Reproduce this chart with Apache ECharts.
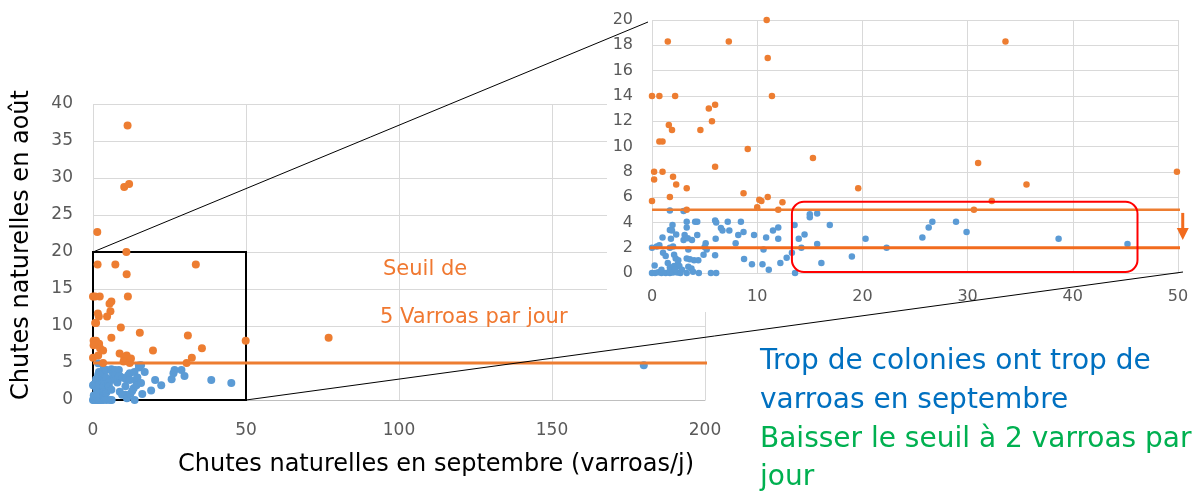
<!DOCTYPE html>
<html><head><meta charset="utf-8">
<script src="https://cdn.jsdelivr.net/npm/echarts@6/dist/echarts.min.js"></script>
<style>html,body{margin:0;padding:0;background:#fff}#c{width:1203px;height:492px}</style>
</head><body><div id="c"></div>
<script>
// ---- data (Chutes naturelles: [septembre, août]) ----
const orangePoints = [
  [0,14],[0.7,14],[2.2,14],[11.4,14],[1.5,18.3],[7.3,18.3],[10.9,20],[11,17],[5.4,13],[6.0,13.3],
  [5.7,12],[1.6,11.7],[1.9,11.3],[4.6,11.3],[0.7,10.4],[1.0,10.4],[9.1,9.8],[6.0,8.4],[0.2,8.0],[1.0,8.0],
  [0.2,7.4],[2.0,7.6],[2.3,7.0],[3.3,6.7],[15.3,9.1],[19.6,6.7],[0,5.7],[1.7,6.0],[8.7,6.3],[10.2,5.8],
  [10.4,5.7],[11.0,6.0],[10.0,5.2],[12.4,5.6],[12.0,5.0],[3.3,5.0],[33.6,18.3],[31.0,8.7],[49.9,8.0],[35.6,7.0],
  [32.3,5.7],[30.6,5.0],[1.4,22.7],[10.2,28.8],[11.8,29.2],[11.3,37.1],[77,8.4]
];
const bluePoints = [
  [0,0],[0.3,0],[0.6,0.05],[0.9,0],[0.9,0.25],[0.25,0.6],
  [0,2.0],[0.45,2.1],[0.7,2.2],[1.0,2.8],[1.05,1.6],[1.3,1.35],[1.3,0],[1.7,0],[1.7,0.45],[1.7,0.2],
  [1.7,4.95],[1.7,3.4],[1.95,3.8],[1.9,3.35],[1.8,2.7],[1.7,2.0],[2.0,2.1],[2.0,0.03],[2.1,0.56],[2.1,1.45],
  [2.25,1.15],[2.3,3.05],[2.4,0.03],[2.45,0.7],[2.5,1.0],[2.6,0.55],[2.7,0],[2.85,0.25],[2.2,0.3],[1.5,0.8],
  [3.0,4.9],[3.1,3.0],[3.0,2.6],[3.3,4.05],[3.3,3.6],[3.4,2.75],[3.3,0],[3.3,1.15],[3.45,1.85],[3.45,0.5],
  [3.6,1.08],[3.75,0.35],[3.8,2.6],[3.9,0.1],[4.0,1.0],[4.1,4.05],[4.3,4.05],[4.3,3.0],[4.4,1.0],[4.45,0],
  [4.9,1.45],[5.0,2.05],[5.1,2.35],[5.2,1.85],[5.6,0],
  [6.0,1.4],[6.0,4.15],[6.1,4.0],[6.05,2.7],[6.1,0],[6.55,3.55],[6.7,3.35],[7.2,4.05],[7.35,3.35],[7.95,2.35],
  [8.2,3.0],[8.45,4.05],[8.7,3.25],[8.75,1.1],[9.5,0.7],[9.7,3.0],[10.5,0.7],[10.6,1.85],[10.85,2.8],[11.1,0.25],
  [11.5,3.35],[12.0,3.6],[12.0,2.7],[12.2,0.8],[12.8,1.2],[13.3,1.6],[13.55,3.8],[13.6,0],[13.95,2.7],[14.2,2.0],
  [14.5,3.05],[15.0,4.65],[15.0,4.4],[15.7,4.7],[15.7,2.3],[16.1,0.8],[16.9,3.8],[19.0,1.3],[20.3,2.7],[22.3,2.0],
  [25.7,2.8],[26.3,3.6],[26.65,4.05],[28.9,4.05],[29.9,3.25],[38.65,2.7],[45.2,2.3],[180,4.7]
];
const mainXRange = [0, 200, 50];   // min, max, interval
const mainYRange = [0, 40, 5];
const zoomXRange = [0, 50, 10];
const zoomYRange = [0, 20, 2];
const seuilActuel = 5;
const seuilPropose = 2;
const zoomBox = [[0, 20], [50, 0]];
const highlightBox = [[13.3, 5.63], [46.15, 0.08]];

// ---- style ----
const FONT = '"DejaVu Sans", "Liberation Sans", Arial, sans-serif';
const GRID = '#D9D9D9';
const LABEL = '#595959';
const ORANGE = '#ED7D31';
const BLUE = '#5B9BD5';

const chart = echarts.init(document.getElementById('c'), null, {renderer: 'canvas'});

function valueAxis(grid, r, z, margin, fs, extra) {
  return Object.assign({
    gridIndex: grid, type: 'value', min: r[0], max: r[1], interval: r[2], z: z,
    axisLine: {show: false}, axisTick: {show: false},
    axisLabel: {fontSize: fs, color: LABEL, margin: margin, fontFamily: FONT},
    splitLine: {show: true, lineStyle: {color: GRID, width: 1}}
  }, extra || {});
}

const option = {
  animation: false,
  backgroundColor: '#fff',
  grid: [
    {left: 93, top: 104, width: 612, height: 296},
    {left: 652, top: 20, width: 526, height: 253}
  ],
  xAxis: [
    valueAxis(0, mainXRange, 0, 22, 17, {
      axisLine: {show: true, lineStyle: {color: '#BFBFBF'}},
      name: 'Chutes naturelles en septembre (varroas/j)', nameLocation: 'middle', nameGap: 53,
      nameTextStyle: {fontSize: 24, color: '#000', fontFamily: FONT, padding: [0, 0, 0, 74]}
    }),
    valueAxis(1, zoomXRange, 2, 16, 16, {axisLine: {show: true, lineStyle: {color: GRID}}})
  ],
  yAxis: [
    valueAxis(0, mainYRange, 0, 20, 17, {
      name: 'Chutes naturelles en août', nameLocation: 'middle', nameGap: 59,
      nameTextStyle: {fontSize: 24, color: '#000', fontFamily: FONT, padding: [0, 0, 0, 14]}
    }),
    valueAxis(1, zoomYRange, 2, 19, 16)
  ],
  series: [
    {type: 'scatter', xAxisIndex: 0, yAxisIndex: 0, data: bluePoints, symbolSize: 8,
     itemStyle: {color: BLUE, opacity: 1}, z: 3},
    {type: 'scatter', xAxisIndex: 0, yAxisIndex: 0, data: orangePoints, symbolSize: 8,
     itemStyle: {color: ORANGE, opacity: 1}, z: 3},
    {type: 'line', xAxisIndex: 0, yAxisIndex: 0, data: [[mainXRange[0], seuilActuel], [205.6, seuilActuel]],
     clip: false, symbol: 'none', lineStyle: {color: ORANGE, width: 3}, z: 4,
     markArea: {silent: true, itemStyle: {color: 'rgba(0,0,0,0)', borderColor: '#000', borderWidth: 2},
       data: [[{coord: zoomBox[0]}, {coord: zoomBox[1]}]]}},
    {type: 'scatter', xAxisIndex: 1, yAxisIndex: 1, data: bluePoints, symbolSize: 6.5,
     itemStyle: {color: BLUE, opacity: 1}, z: 5},
    {type: 'scatter', xAxisIndex: 1, yAxisIndex: 1, data: orangePoints, symbolSize: 6.5,
     itemStyle: {color: ORANGE, opacity: 1}, z: 5},
    {type: 'line', xAxisIndex: 1, yAxisIndex: 1, data: [[zoomXRange[0], seuilActuel], [50.8, seuilActuel]],
     clip: false, symbol: 'none', lineStyle: {color: ORANGE, width: 2.5}, z: 6},
    {type: 'line', xAxisIndex: 1, yAxisIndex: 1, data: [[-0.4, seuilPropose], [50.4, seuilPropose]],
     clip: false, symbol: 'none', lineStyle: {color: '#F26B1D', width: 3}, z: 6}
  ]
};
chart.setOption(option);

const mainF = {xAxisIndex: 0, yAxisIndex: 0};
const zoomF = {xAxisIndex: 1, yAxisIndex: 1};
const pMainTL = chart.convertToPixel(mainF, zoomBox[0]);
const pMainBR = chart.convertToPixel(mainF, zoomBox[1]);
const pZoomTL = chart.convertToPixel(zoomF, [zoomXRange[0], zoomYRange[1]]);
const pZoomBR = chart.convertToPixel(zoomF, [zoomXRange[1], zoomYRange[0]]);
const hTL = chart.convertToPixel(zoomF, highlightBox[0]);
const hBR = chart.convertToPixel(zoomF, highlightBox[1]);
const a1 = chart.convertToPixel(zoomF, [50.45, 4.75]);
const a2 = chart.convertToPixel(zoomF, [50.45, 2.6]);

function txt(text, x, y, color, size) {
  return {type: 'text', x: x, y: y, z: 20,
    style: {text: text, fill: color, font: size + 'px ' + FONT, textVerticalAlign: 'middle', verticalAlign: 'middle'}};
}

chart.setOption({
  graphic: {elements: [
    {type: 'rect', z: 1, shape: {x: 607, y: 0, width: 596, height: 312}, style: {fill: '#fff'}},
    {type: 'line', z: 20, shape: {x1: pMainTL[0], y1: pMainTL[1], x2: pZoomTL[0] - 4, y2: pZoomTL[1] + 2},
     style: {stroke: '#000', lineWidth: 1}},
    {type: 'line', z: 20, shape: {x1: pMainBR[0], y1: pMainBR[1], x2: pZoomBR[0] + 5, y2: pZoomBR[1] - 1},
     style: {stroke: '#000', lineWidth: 1}},
    {type: 'rect', z: 20, shape: {x: hTL[0], y: hTL[1], width: hBR[0] - hTL[0], height: hBR[1] - hTL[1], r: 12},
     style: {fill: 'none', stroke: '#FF0000', lineWidth: 2}},
    {type: 'line', z: 20, shape: {x1: a1[0], y1: a1[1], x2: a1[0], y2: a2[1] - 10},
     style: {stroke: '#F26B1D', lineWidth: 3}},
    {type: 'polygon', z: 20, shape: {points: [[a1[0] - 6, a2[1] - 12], [a1[0] + 6, a2[1] - 12], [a1[0], a2[1]]]},
     style: {fill: '#F26B1D'}},
    txt('Seuil de', 383, 270, '#F07830', 21),
    txt('5 Varroas par jour', 380, 318, '#F07830', 21),
    txt('Trop de colonies ont trop de', 760, 362, '#0070C0', 28),
    txt('varroas en septembre', 760, 401, '#0070C0', 28),
    txt('Baisser le seuil à 2 varroas par', 760, 440, '#00B050', 28),
    txt('jour', 760, 478, '#00B050', 28)
  ]}
});
</script>
</body></html>
